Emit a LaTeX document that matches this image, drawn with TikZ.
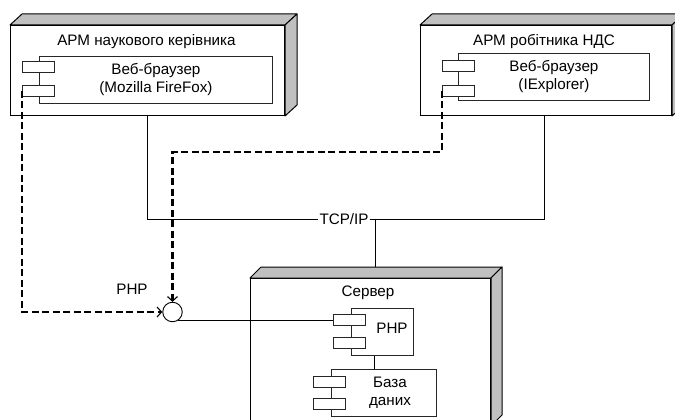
\documentclass[tikz,border=0pt]{standalone}
\usepackage{fontspec}
\setmainfont{Liberation Sans}
\usetikzlibrary{arrows.meta}
\definecolor{facegray}{HTML}{C0C0C0}
\newcommand\boxfaces[3]{%
  \path[face] (#1.north west) -- ++(#2,-#3) -- ([shift={(#2,-#3)}]#1.north east) -- (#1.north east) -- cycle;
  \path[face] (#1.north east) -- ++(#2,-#3) -- ([shift={(#2,-#3)}]#1.south east) -- (#1.south east) -- cycle;}
\begin{document}
\begin{tikzpicture}[x=1pt,y=-1pt,
  every node/.style={font=\fontsize{15.2}{18}\selectfont},
  front/.style={draw=black,fill=white,line width=1pt,inner sep=0pt,anchor=north west},
  face/.style={draw=black,fill=facegray,line width=1pt,line join=round},
  comp/.style={draw=black!85,fill=white,line width=0.9pt,inner sep=0pt,anchor=north west,align=center},
  port/.style={draw=black!85,fill=white,line width=0.9pt,inner sep=0pt,minimum width=32pt,minimum height=11pt,anchor=north west},
  txt/.style={inner sep=1pt,align=center},
  link/.style={draw=black,line width=0.9pt},
  dep/.style={draw=black,line width=2.1pt,dash pattern=on 7pt off 3.5pt,-{Straight Barb[length=4.5pt,width=10pt,line width=1.1pt]}},
]
\useasboundingbox (0,0) rectangle (675,420);

% --- left workstation ---
\node[front,minimum width=274pt,minimum height=90pt] (A) at (10,25) {};
\boxfaces{A}{12}{11}
\node[txt] (Atitle) at (146.5,42) {АРМ наукового керівника};
\node[comp,minimum width=233pt,minimum height=47pt] (Acomp) at (39,56) {Веб-браузер\\(Mozilla FireFox)};
\node[port] (Ap1) at (22,61) {};
\node[port] (Ap2) at (22,85) {};

% --- right workstation ---
\node[front,minimum width=251pt,minimum height=90pt] (B) at (420,25) {};
\boxfaces{B}{12}{11}
\node[txt] (Btitle) at (544,42) {АРМ робітника НДС};
\node[comp,minimum width=191pt,minimum height=47pt] (Bcomp) at (458,53) {Веб-браузер\\(IExplorer)};
\node[port] (Bp1) at (442,60) {};
\node[port] (Bp2) at (442,85) {};

% --- server ---
\node[front,minimum width=240pt,minimum height=147pt] (S) at (250,278) {};
\boxfaces{S}{11}{11}
\node[txt] (Stitle) at (368,293) {Сервер};
\node[comp,minimum width=62pt,minimum height=47pt] (php) at (351,308) {};
\node[txt] (phptxt) at (392,328) {PHP};
\node[port] (pp1) at (333,314) {};
\node[port] (pp2) at (333,337) {};
\node[comp,minimum width=105pt,minimum height=47pt] (db) at (331,369) {};
\node[txt] (dbtxt) at (390,393) {База\\даних};
\node[port] (dp1) at (313,376) {};
\node[port] (dp2) at (313,398) {};
\draw[link] ([xshift=-8pt]php.south) -- ([xshift=-8pt]php.south |- db.north);

% --- network ---
\node[txt] (tcp) at (344,219) {TCP/IP};
\coordinate (j) at (375,219);
\coordinate (Sback) at ([shift={(11,-11)}]S.north);
\draw[link] (A.south) |- (tcp.west);
\draw[link] (tcp.east) -| ([xshift=-1.5pt]B.south);
\draw[link] (j) -- (j |- Sback);

% --- interface ---
\node[draw=black,fill=white,circle,line width=0.9pt,minimum size=19.5pt,inner sep=0pt] (iface) at (172.5,312) {};
\node[txt] (phplbl) at (132,289) {PHP};
\draw[link] (iface.-60) -- (iface.-60 -| pp1.west);
\coordinate (bend) at (442,152);
\draw[dep] (Ap2.west) |- (iface.west);
\draw[dep] (Bp2.west) -- (bend) -| (iface.north);
\end{tikzpicture}
\end{document}
